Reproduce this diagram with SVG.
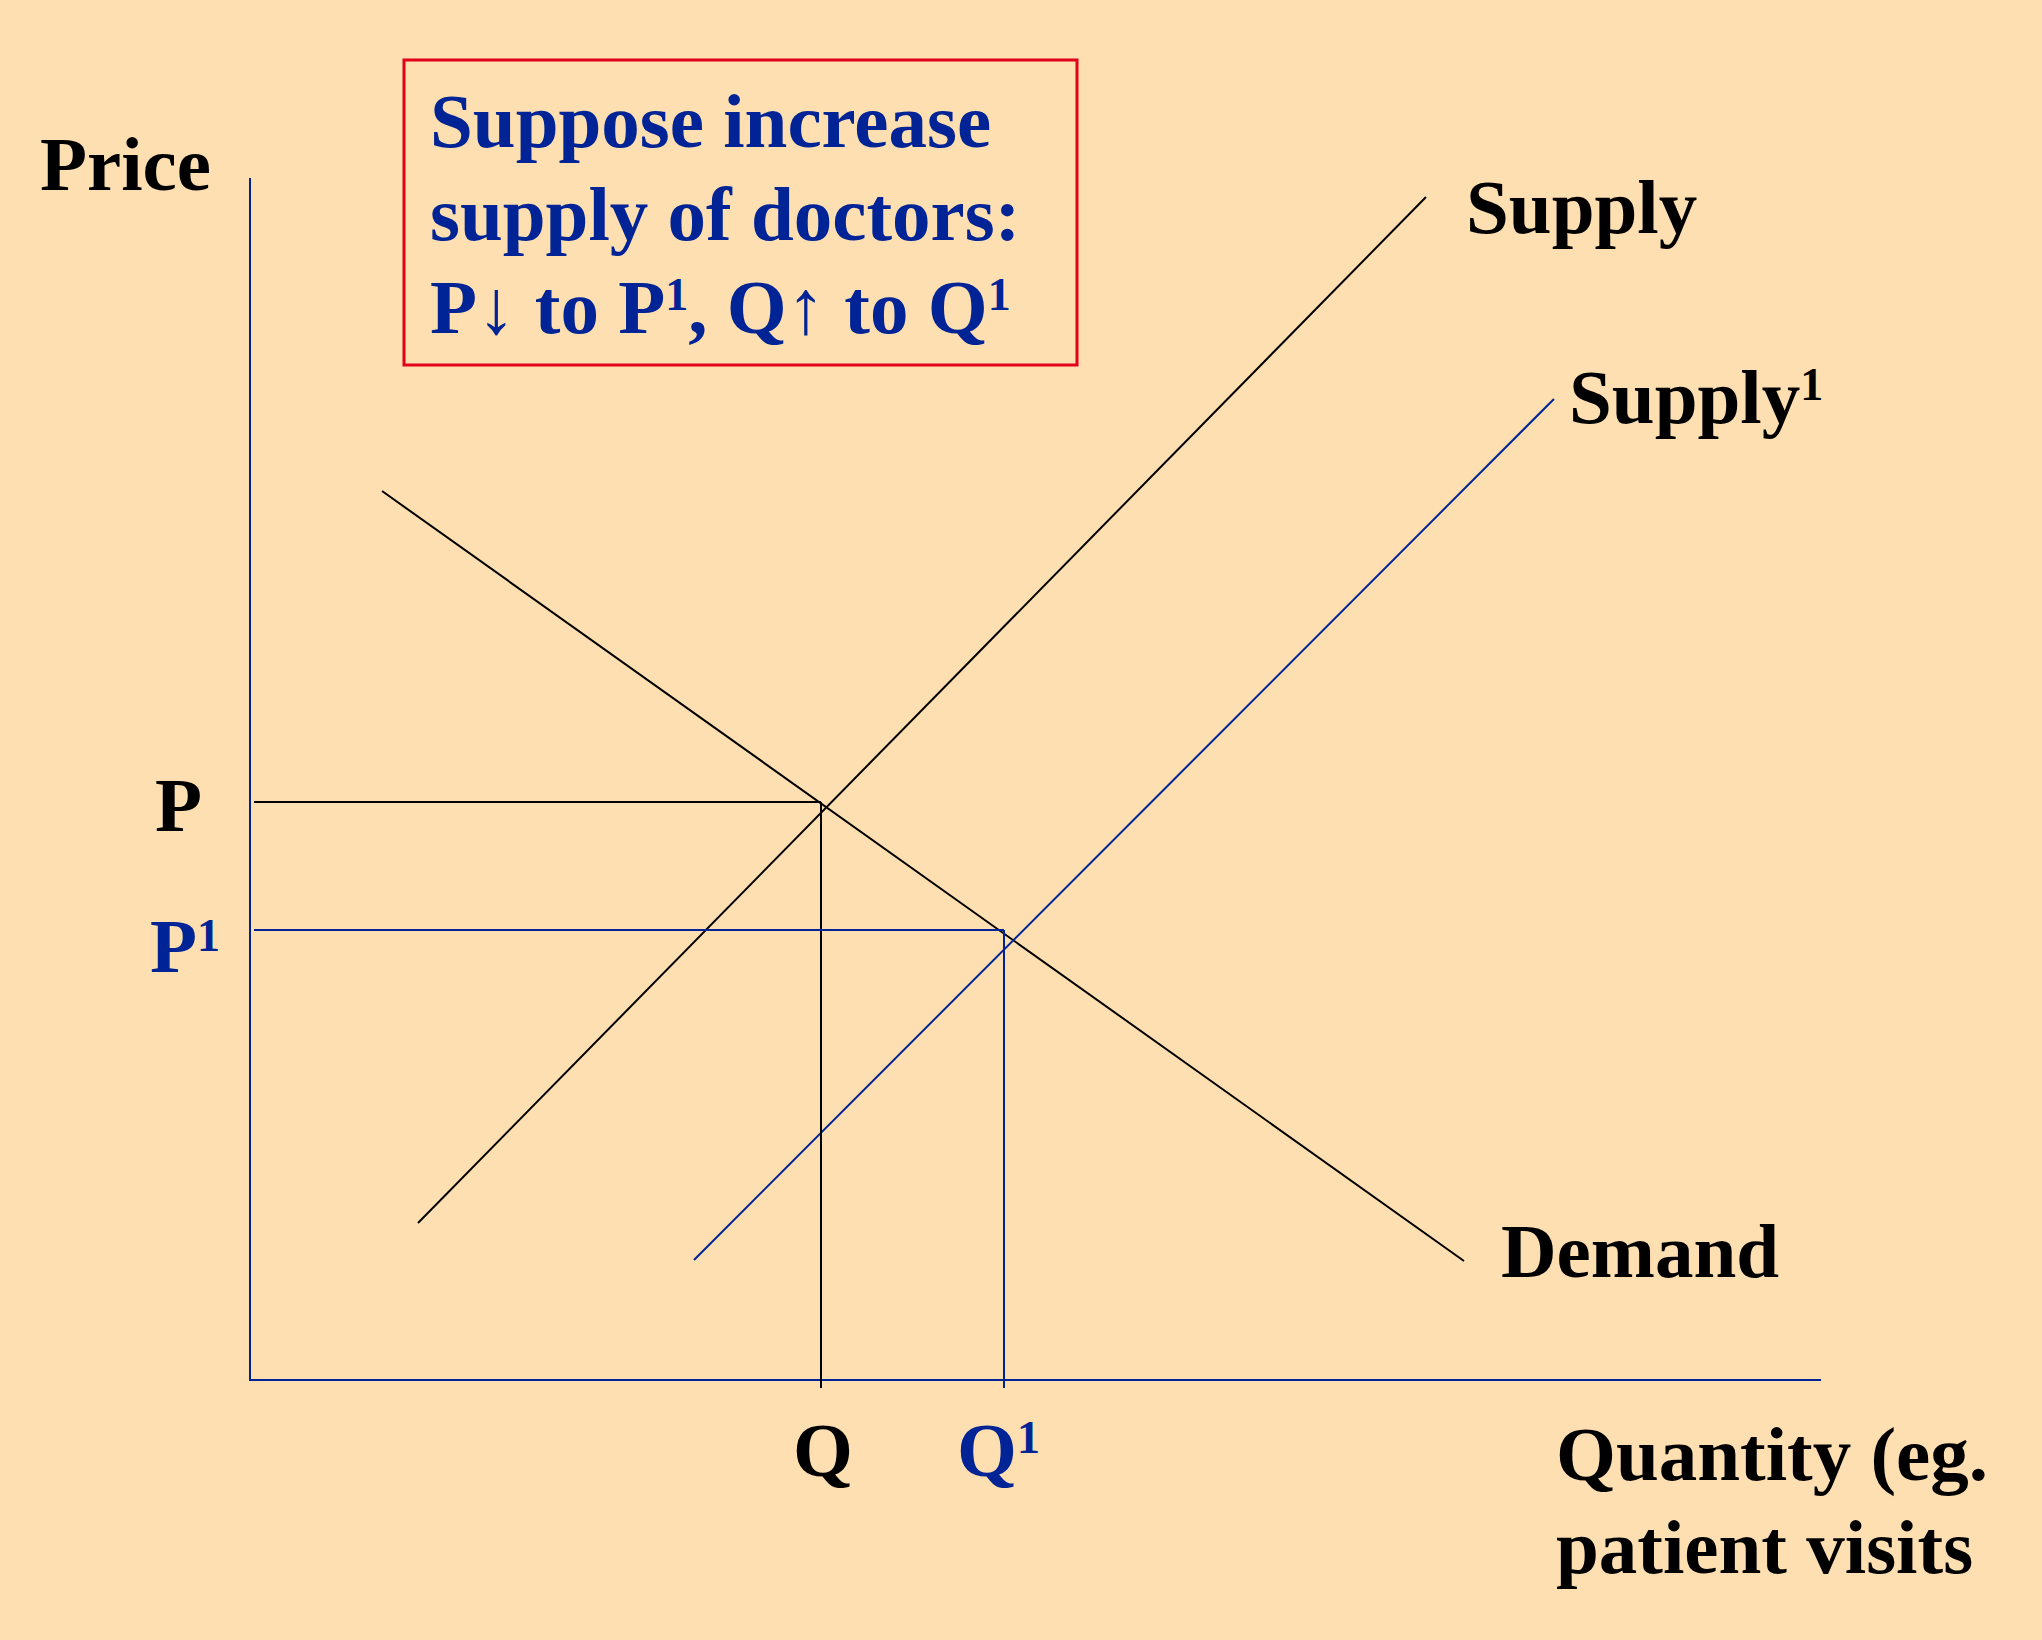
<svg xmlns="http://www.w3.org/2000/svg" width="2042" height="1640" viewBox="0 0 2042 1640">
<style>
text{font-family:"Liberation Serif","Times New Roman",serif;font-weight:bold;font-size:77px}
.k{fill:#000}
.b{fill:#002395}
.sup{font-size:46px}
.lk{stroke:#000;stroke-width:2;fill:none}
.lb{stroke:#002395;stroke-width:2;fill:none}
</style>
<rect x="0" y="0" width="2042" height="1640" fill="#FEDFB1"/>
<g id="axes">
<line class="lb" x1="250" y1="178" x2="250" y2="1381" stroke-width="2.5"/>
<line class="lb" x1="249" y1="1380" x2="1821" y2="1380" stroke-width="3"/>
</g>
<g id="connectors">
<line id="demand-line" class="lk" x1="382" y1="491" x2="1464" y2="1261"/>
<line id="supply-line" class="lk" x1="418" y1="1223" x2="1426" y2="197"/>
<line id="supply1-line" class="lb" x1="694" y1="1260" x2="1554" y2="399"/>
<line id="p-line" class="lk" x1="254" y1="802" x2="821" y2="802" stroke-width="2.5"/>
<line id="q-line" class="lk" x1="821" y1="802" x2="821" y2="1388"/>
<line id="p1-line" class="lb" x1="254" y1="930" x2="1004" y2="930" stroke-width="2.5"/>
<line id="q1-line" class="lb" x1="1004" y1="930" x2="1004" y2="1388"/>
</g>
<g id="note">
<rect x="404" y="60" width="673" height="305" fill="none" stroke="#E2001A" stroke-width="3"/>
<text class="b" x="430" y="147">Suppose increase</text>
<text class="b" x="430" y="240">supply of doctors:</text>
<text class="b" x="430" y="333">P↓ to P<tspan class="sup" dy="-23">1</tspan><tspan dy="23">, Q↑ to Q</tspan><tspan class="sup" dy="-23">1</tspan></text>
</g>
<g id="price-label"><text class="k" x="40" y="190">Price</text></g>
<g id="supply-label"><text class="k" x="1466" y="233">Supply</text></g>
<g id="supply1-label"><text class="k" x="1569" y="423">Supply<tspan class="sup" dy="-23">1</tspan></text></g>
<g id="demand-label"><text class="k" x="1501" y="1277">Demand</text></g>
<g id="p-label"><text class="k" x="155" y="831">P</text></g>
<g id="p1-label"><text class="b" x="150" y="972">P<tspan class="sup" dy="-21">1</tspan></text></g>
<g id="q-label"><text class="k" x="793" y="1476">Q</text></g>
<g id="q1-label"><text class="b" x="957" y="1476">Q<tspan class="sup" dy="-23">1</tspan></text></g>
<g id="quantity-label"><text class="k" x="1556" y="1480">Quantity (eg.</text><text class="k" x="1556" y="1573">patient visits</text></g>
</svg>
